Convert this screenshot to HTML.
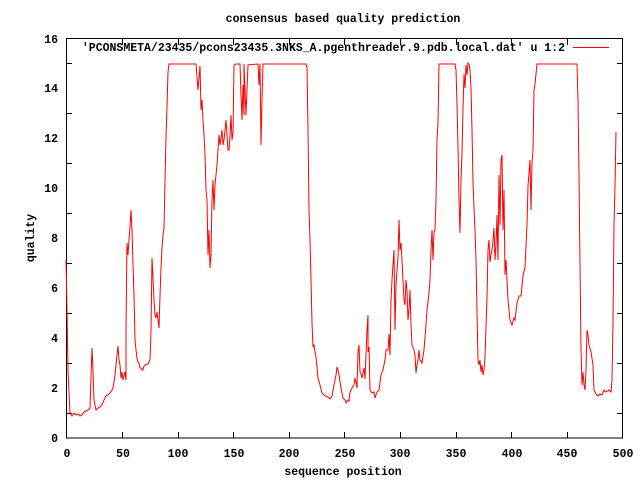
<!DOCTYPE html>
<html><head><meta charset="utf-8"><style>html,body{margin:0;padding:0;background:#fff}svg{display:block}</style></head><body>
<svg width="640" height="480" viewBox="0 0 640 480" xmlns="http://www.w3.org/2000/svg" font-family="Liberation Mono, monospace" font-weight="bold" font-size="11.5">
<rect width="640" height="480" fill="#fff"/>
<g stroke="#000" stroke-width="1" fill="none" shape-rendering="crispEdges">
<rect x="66.5" y="38.5" width="556" height="399.5"/>
<path d="M66 413.5h6M623 413.5h-6M66 363.5h6M623 363.5h-6M66 313.5h6M623 313.5h-6M66 263.5h6M623 263.5h-6M66 213.5h6M623 213.5h-6M66 163.5h6M623 163.5h-6M66 113.5h6M623 113.5h-6M66 63.5h6M623 63.5h-6"/>
<path d="M122.5 438v-6M122.5 39v6M178.5 438v-6M178.5 39v6M233.5 438v-6M233.5 39v6M289.5 438v-6M289.5 39v6M344.5 438v-6M344.5 39v6M400.5 438v-6M400.5 39v6M456.5 438v-6M456.5 39v6M511.5 438v-6M511.5 39v6M567.5 438v-6M567.5 39v6"/>
</g>
<g text-anchor="end" fill="#000">
<text x="58" y="442">0</text><text x="58" y="392">2</text><text x="58" y="342">4</text><text x="58" y="292">6</text><text x="58" y="242">8</text><text x="58" y="192">10</text><text x="58" y="142">12</text><text x="58" y="92">14</text><text x="58" y="43">16</text>
</g>
<g text-anchor="middle" fill="#000">
<text x="67" y="457">0</text><text x="123" y="457">50</text><text x="178" y="457">100</text><text x="234" y="457">150</text><text x="289" y="457">200</text><text x="345" y="457">250</text><text x="400" y="457">300</text><text x="456" y="457">350</text><text x="512" y="457">400</text><text x="567" y="457">450</text><text x="623" y="457">500</text>
<text x="343" y="475">sequence position</text>
<text x="343" y="22">consensus based quality prediction</text>
<text x="0" y="0" transform="translate(34,238) rotate(-90)">quality</text>
</g>
<text x="565" y="51" text-anchor="end" fill="#000">'PCONSMETA/23435/pcons23435.3NKS_A.pgenthreader.9.pdb.local.dat' u 1:2</text>
<path d="M573 47.5h36" stroke="#f00" stroke-width="1"/>
<polyline fill="none" stroke="#f00" stroke-width="1" points="66,260 67,310 68,370 69,392 70,413 72,416 74,413 76,415 78,414 80,416 82,415 84,412 86,411 88,410 90,408 92,348 93,370 94,400 96,410 98,408 100,407 102,405 104,400 106,396 108,395 110,393 112,390 113,388 115,375 117,355 118,346 119,360 120,365 121,378 122,372 123,380 124,376 125,372 126,380 126,327 127,243 128,255 129,240 130,227 131,210 132,230 133,265 134,295 135,340 136,350 137,358 138,362 139,363 140,368 141,368 142,370 143,370 144,366 145,365 147,364 148,364 150,360 151,330 152,258 153,278 154,300 155,315 156,318 157,312 158,320 159,328 160,296 161,268 162,248 163,235 164,228 165,182 166,137 167,107 168,72 169,64 196,64 198,90 199,78 200,66 201,110 202,100 203,120 204,135 205,155 206,190 207,200 208,255 209,230 210,268 211,255 212,200 213,180 214,210 215,185 216,175 217,165 218,150 219,135 220,145 221,138 222,130 223,145 224,140 225,130 226,120 227,135 228,150 229,150 230,135 231,115 232,140 233,133 234,65 236,64 240,64 241,95 242,120 243,85 244,115 244,64 245,90 246,115 247,90 248,65 258,64 259,85 260,64 261,145 262,100 263,64 306,64 307,68 308,130 309,210 310,240 311,280 312,323 313,347 314,345 315,352 316,357 318,378 320,385 322,393 325,396 328,397 330,399 332,396 334,385 336,375 337,367 338,370 339,375 341,388 343,398 345,400 346,403 348,400 349,401 350,392 352,388 354,385 355,378 356,382 357,388 358,352 359,345 360,372 361,374 362,378 364,368 365,379 367,330 368,315 368,352 369,347 370,390 372,393 374,392 375,398 377,392 379,390 381,375 383,370 385,360 386,350 388,350 389,334 390,355 391,300 392,280 393,265 394,250 395,330 396,285 397,270 398,258 399,220 400,250 401,243 402,260 403,280 404,300 405,305 406,280 407,290 408,320 409,310 410,290 411,325 412,345 414,350 415,355 416,373 417,365 418,360 419,350 420,360 422,363 424,350 425,337 426,325 427,310 429,293 430,280 431,250 432,230 433,260 434,232 435,230 436,200 437,140 438,123 439,64 455,64 456,70 457,103 458,148 459,200 460,233 461,180 462,153 463,108 464,74 465,88 466,65 467,75 468,63 469,64 470,70 471,88 472,130 473,182 474,208 475,230 476,260 477,312 478,360 479,365 480,360 481,372 482,365 483,375 484,370 485,357 487,297 488,250 489,240 490,262 491,255 492,250 493,240 494,228 495,260 496,245 497,215 498,260 499,175 500,225 501,160 502,155 503,230 504,190 505,275 506,260 507,280 508,300 509,310 510,320 512,325 514,318 515,320 517,303 519,296 521,296 523,276 525,267 527,225 528,186 530,160 531,210 532,163 533,150 534,90 535,84 537,64 577,64 578,100 579,175 580,265 581,350 582,385 583,372 584,385 585,390 586,370 587,330 588,335 589,345 591,352 593,365 594,390 596,394 598,396 600,394 602,395 604,390 606,392 609,390 611,392 612,380 613,322 614,225 615,185 616,132"/>
</svg>
</body></html>
